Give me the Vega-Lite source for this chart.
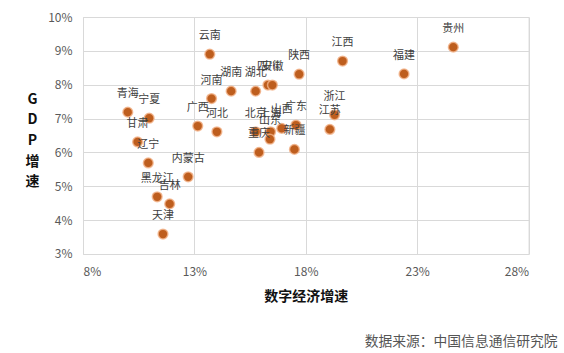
{
  "$schema": "https://vega.github.io/schema/vega-lite/v6.json",
  "width": 445.6,
  "height": 237,
  "autosize": {"type": "none"},
  "padding": {"left": 83, "top": 17, "right": 35, "bottom": 99},
  "background": "white",
  "config": {
    "view": {"stroke": "#d9d9d9", "strokeWidth": 1},
    "font": "Noto Sans CJK SC"
  },
  "title": {
    "text": "数据来源：中国信息通信研究院",
    "orient": "bottom",
    "anchor": "end",
    "frame": "group",
    "fontSize": 13.8,
    "fontWeight": "normal",
    "color": "#555555",
    "font": "Noto Sans CJK SC",
    "dx": 29,
    "offset": 31
  },
  "data": {
    "values": [
      {"province": "贵州", "digital": 24.62, "gdp": 9.11},
      {"province": "福建", "digital": 22.41, "gdp": 8.32},
      {"province": "江西", "digital": 19.65, "gdp": 8.70},
      {"province": "陕西", "digital": 17.70, "gdp": 8.31},
      {"province": "云南", "digital": 13.69, "gdp": 8.90},
      {"province": "河南", "digital": 13.77, "gdp": 7.59},
      {"province": "湖南", "digital": 14.65, "gdp": 7.81},
      {"province": "湖北", "digital": 15.75, "gdp": 7.81},
      {"province": "四川", "digital": 16.30, "gdp": 7.99},
      {"province": "安徽", "digital": 16.50, "gdp": 7.99},
      {"province": "青海", "digital": 10.01, "gdp": 7.19},
      {"province": "宁夏", "digital": 10.97, "gdp": 7.01},
      {"province": "甘肃", "digital": 10.45, "gdp": 6.31},
      {"province": "辽宁", "digital": 10.93, "gdp": 5.69},
      {"province": "内蒙古", "digital": 12.72, "gdp": 5.28},
      {"province": "黑龙江", "digital": 11.33, "gdp": 4.69},
      {"province": "吉林", "digital": 11.89, "gdp": 4.48},
      {"province": "天津", "digital": 11.59, "gdp": 3.59},
      {"province": "广西", "digital": 13.15, "gdp": 6.78},
      {"province": "河北", "digital": 14.01, "gdp": 6.61},
      {"province": "北京", "digital": 15.75, "gdp": 6.61},
      {"province": "上海", "digital": 16.42, "gdp": 6.61},
      {"province": "山东", "digital": 16.39, "gdp": 6.39},
      {"province": "山西", "digital": 16.92, "gdp": 6.71},
      {"province": "广东", "digital": 17.56, "gdp": 6.81},
      {"province": "重庆", "digital": 15.90, "gdp": 6.00},
      {"province": "新疆", "digital": 17.49, "gdp": 6.09},
      {"province": "浙江", "digital": 19.29, "gdp": 7.11},
      {"province": "江苏", "digital": 19.08, "gdp": 6.68}
    ]
  },
  "encoding": {
    "x": {
      "field": "digital",
      "type": "quantitative",
      "scale": {"domain": [8, 28], "nice": false, "zero": false},
      "axis": {
        "values": [8, 13, 18, 23, 28],
        "labelExpr": "datum.value + '%'",
        "grid": true,
        "gridColor": "#d9d9d9",
        "domain": false,
        "ticks": false,
        "labelFontSize": 12,
        "labelColor": "#595959",
        "labelPadding": 13,
        "title": "数字经济增速",
        "titleFontSize": 14,
        "titleFontWeight": "bold",
        "titleColor": "#111111",
        "titlePadding": 12
      }
    },
    "y": {
      "field": "gdp",
      "type": "quantitative",
      "scale": {"domain": [3, 10], "nice": false, "zero": false},
      "axis": {
        "values": [3, 4, 5, 6, 7, 8, 9, 10],
        "labelExpr": "datum.value + '%'",
        "grid": true,
        "gridColor": "#d9d9d9",
        "domain": false,
        "ticks": false,
        "labelFontSize": 12,
        "labelColor": "#595959",
        "labelPadding": 11,
        "title": ["G", "D", "P", "增", "速"],
        "titleAngle": 0,
        "titleAlign": "center",
        "titleBaseline": "middle",
        "titleX": -51,
        "titleY": 82,
        "titleLineHeight": 20.7,
        "titleFontSize": 14,
        "titleFontWeight": "bold",
        "titleColor": "#111111"
      }
    }
  },
  "layer": [
    {
      "mark": {
        "type": "circle",
        "size": 95,
        "opacity": 1,
        "color": "#BE5E1E",
        "stroke": "#F3B38A",
        "strokeWidth": 1.5,
        "strokeOpacity": 0.8
      }
    },
    {
      "mark": {
        "type": "text",
        "dy": -18,
        "fontSize": 11,
        "color": "#404040",
        "baseline": "middle"
      },
      "encoding": {"text": {"field": "province"}}
    }
  ]
}
